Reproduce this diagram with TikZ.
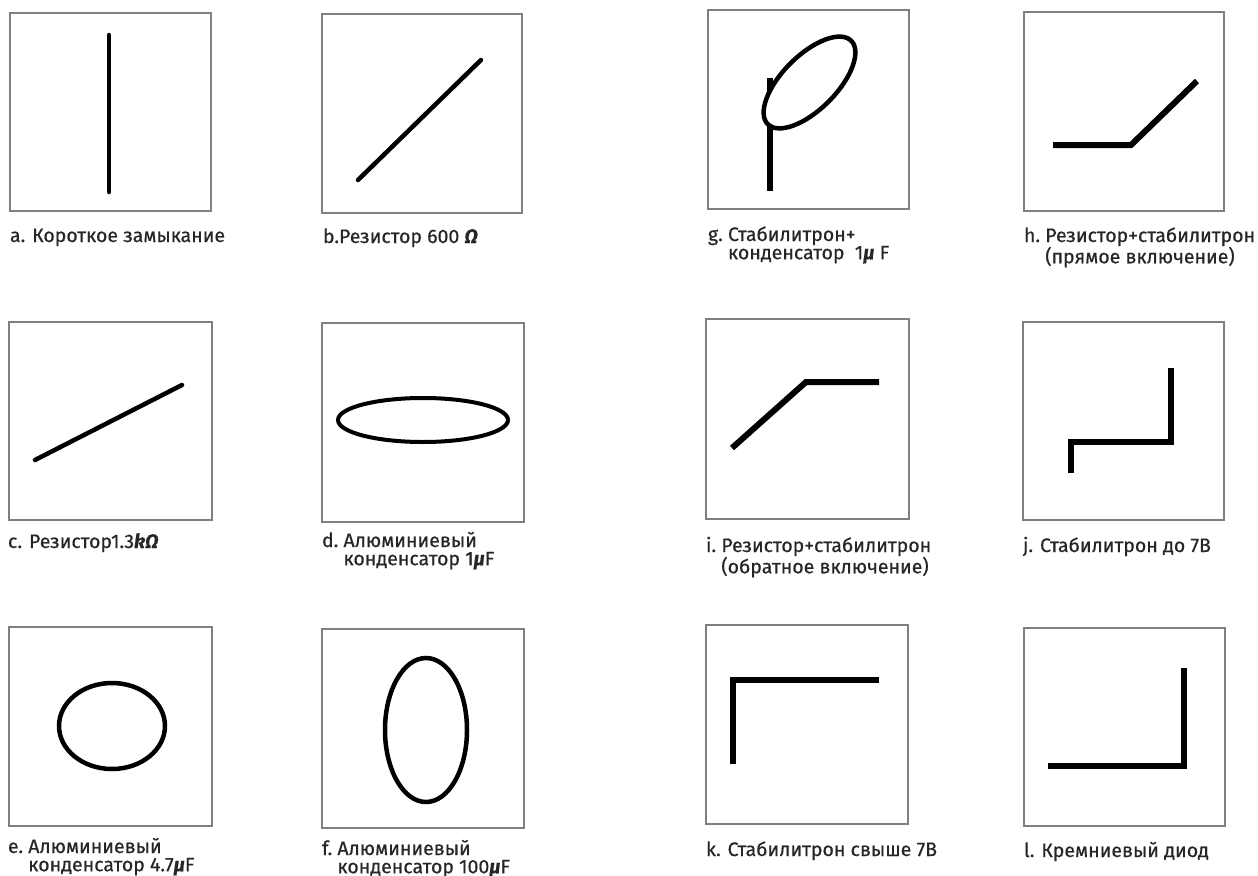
\documentclass[tikz,border=0pt]{standalone}
\usepackage{fontspec}
\setmainfont{Fira Sans}[FakeBold=0.5]
\newcommand\gk[1]{\textbf{\textit{#1}}}
\newcommand\twoline[3]{\begin{tabular}[t]{@{}l@{\ }l@{}}#1&#2\\&#3\end{tabular}}
\begin{document}
\begin{tikzpicture}[x=1bp,y=-1bp,
  frame/.style={draw=black!50, line width=1.3bp},
  trace/.style={draw=black, line width=4.5bp, line cap=round},
  ptrace/.style={draw=black, line width=6bp, line cap=butt, line join=miter},
  lbl/.style={anchor=base west, inner sep=0pt, outer sep=0pt, text=black!85,
              font=\fontsize{19.5bp}{16bp}\selectfont},
]
\useasboundingbox (0,0) rectangle (1258,876);
\fill[white] (0,0) rectangle (1258,876);

% frames
\draw[frame] (10,13) rectangle (211,211);
\draw[frame] (322,14) rectangle (522,213);
\draw[frame] (708,10) rectangle (909,209);
\draw[frame] (1024,12) rectangle (1224,211);
\draw[frame] (9,322) rectangle (212,520);
\draw[frame] (322,323) rectangle (524,522);
\draw[frame] (706,319) rectangle (909,519);
\draw[frame] (1023,322) rectangle (1224,520);
\draw[frame] (9,627) rectangle (212,826);
\draw[frame] (322,629) rectangle (524,828);
\draw[frame] (706,625) rectangle (908,824);
\draw[frame] (1024,628) rectangle (1225,826);

% traces
\draw[trace] (109,35) -- (109,192);
\draw[trace] (358,180) -- (481,60);
\draw[trace] (35,460) -- (182,385);
\draw[trace, line width=4bp] (423,420) ellipse [x radius=85, y radius=22];
\draw[trace] (112,726) ellipse [x radius=53, y radius=43];
\draw[trace] (426,730) ellipse [x radius=41, y radius=72];
\draw[ptrace, line width=5.5bp] (770,78) -- (770,191);
\draw[trace, fill=white, rotate around={45:(809.5,82.5)}] (809.5,82.5) ellipse [x radius=59, y radius=27];
\draw[ptrace] (1053,145) -- (1131,145) -- (1197,81);
\draw[ptrace] (732,448) -- (806,382) -- (879,382);
\draw[ptrace] (1071,473) -- (1071,442) -- (1171,442) -- (1171,368);
\draw[ptrace] (733,764) -- (733,680) -- (879,680);
\draw[ptrace] (1048,766) -- (1184,766) -- (1184,668);

% labels
\node[lbl] (la) at (10,242) {a. Короткое замыкание};
\node[lbl] (lb) at (323,243) {b.Резистор 600 \gk{Ω}};
\node[lbl] (lg) at (708,241) {\twoline{g.}{Стабилитрон+}{конденсатор\ \ 1\gk{μ} F}};
\node[lbl] (lh) at (1024,242) {\twoline{h.}{Резистор+стабилитрон}{(прямое включение)}};
\node[lbl] (lc) at (8,548) {c. Резистор1.3\gk{kΩ}};
\node[lbl] (ld) at (322,547) {\twoline{d.}{Алюминиевый}{конденсатор\ 1\gk{μ}F}};
\node[lbl] (li) at (706,552) {\twoline{i.}{Резистор+стабилитрон}{(обратное включение)}};
\node[lbl] (lj) at (1023,552) {j. Стабилитрон до 7В};
\node[lbl] (le) at (8,853) {\twoline{e.}{Алюминиевый}{конденсатор\ 4.7\gk{μ}F}};
\node[lbl] (lf) at (322,855) {\twoline{f.}{Алюминиевый}{конденсатор\ 100\gk{μ}F}};
\node[lbl] (lk) at (706,856) {k. Стабилитрон свыше 7В};
\node[lbl] (ll) at (1024,857) {l. Кремниевый диод};
\end{tikzpicture}
\end{document}
